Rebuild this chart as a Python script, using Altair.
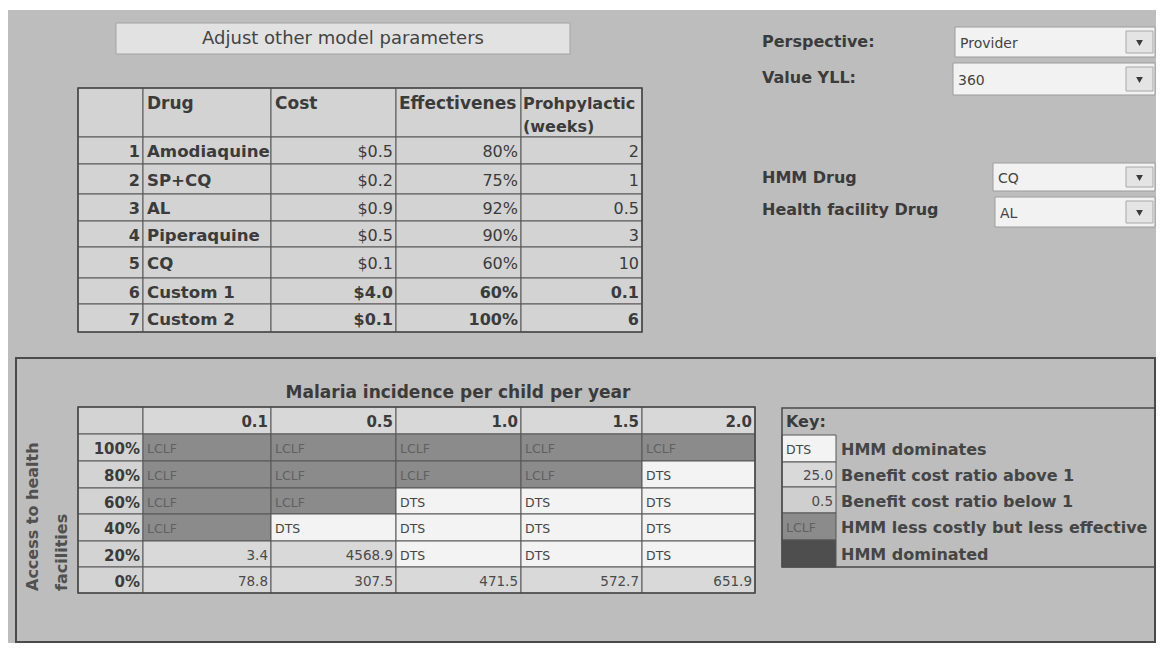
import altair as alt
import pandas as pd

# ---------------- data ----------------
button_label = "Adjust other model parameters"
drug_headers = ["Drug", "Cost", "Effectiveness", "Prohpylactic", "(weeks)"]
drug_ids = ["1", "2", "3", "4", "5", "6", "7"]
drug_names = ["Amodiaquine", "SP+CQ", "AL", "Piperaquine", "CQ", "Custom 1", "Custom 2"]
drug_cost = [0.5, 0.2, 0.9, 0.5, 0.1, 4.0, 0.1]
drug_eff = [80, 75, 92, 90, 60, 60, 100]
drug_weeks = ["2", "1", "0.5", "3", "10", "0.1", "6"]
drug_custom = [False, False, False, False, False, True, True]

control_labels = ["Perspective:", "Value YLL:", "HMM Drug", "Health facility Drug"]
control_values = ["Provider", "360", "CQ", "AL"]

heat_title = "Malaria incidence per child per year"
incidence = ["0.1", "0.5", "1.0", "1.5", "2.0"]
access = ["100%", "80%", "60%", "40%", "20%", "0%"]
results = [
    ["LCLF", "LCLF", "LCLF", "LCLF", "LCLF"],
    ["LCLF", "LCLF", "LCLF", "LCLF", "DTS"],
    ["LCLF", "LCLF", "DTS", "DTS", "DTS"],
    ["LCLF", "DTS", "DTS", "DTS", "DTS"],
    [3.4, 4568.9, "DTS", "DTS", "DTS"],
    [78.8, 307.5, 471.5, 572.7, 651.9],
]
y_title_lines = ["Access to health", "facilities"]
key_title = "Key:"
key_codes = ["DTS", "25.0", "0.5", "LCLF", ""]
key_cats = ["DTS", "HI", "LO", "LCLF", "DOM"]
key_labels = ["HMM dominates", "Benefit cost ratio above 1", "Benefit cost ratio below 1",
              "HMM less costly but less effective", "HMM dominated"]

# ---------------- sheet geometry (px) and styles ----------------
W, H = 1148, 635
COLS = [78, 143, 271, 396, 521, 642, 755]
DRUG_ROWS = [88, 137, 164, 194, 221, 247, 278, 304, 332]
HEAT_ROWS = [407, 434, 461, 488, 514, 541, 567, 593]
KEY_COLS = [782, 836, 1155]
KEY_ROWS = [408, 435, 462, 487, 513, 540, 567]
BUTTON = (116, 570, 23, 54)
PANEL = (16, 1155, 358, 642)
TITLE_X = 458
LABEL_X = 762
LABEL_Y = [42, 78, 178, 210]
BOXES = [(955, 1155, 27, 57), (953, 1155, 63, 95), (993, 1155, 163, 191), (995, 1155, 197, 227)]
ARROW_W = 29

BG = "#bdbdbd"
CELL = "#d3d3d3"
GRID = "#575757"
TEXT = "#3b3b3b"
NONE = "rgba(0,0,0,0)"
CAT_FILL = {"DTS": "#f3f3f3", "HI": "#d9d9d9", "LO": "#cfcfcf", "LCLF": "#8b8b8b", "DOM": "#4e4e4e"}
CAT_TEXT = {"DTS": "#454545", "HI": "#4a4a4a", "LO": "#4a4a4a", "LCLF": "#606060", "DOM": "#505050"}

rects = []
texts = []


def rect(x, x2, y, y2, fill, stroke=NONE, sw=0.0):
    rects.append(dict(x=x, x2=x2, y=y, y2=y2, fill=fill, stroke=stroke, sw=sw))


def text(x, y, s, group, size, color=TEXT):
    texts.append(dict(x=x, y=y, text=s, group=group, size=size, color=color))


def mid(a, b):
    return (a + b) / 2 + 1.5


# background sheet
rect(8, 1156, 10, 643, BG)

# button
rect(*BUTTON, "#e2e2e2", "#a3a3a3", 1)
text((BUTTON[0] + BUTTON[1]) / 2, mid(BUTTON[2], BUTTON[3]) - 1, button_label, "c-n", 18, "#444444")

# drug table
for r in range(len(DRUG_ROWS) - 1):
    for c in range(5):
        rect(COLS[c], COLS[c + 1], DRUG_ROWS[r], DRUG_ROWS[r + 1], CELL, GRID, 1)
rect(COLS[0], COLS[5], DRUG_ROWS[0], DRUG_ROWS[-1], NONE, "#4a4a4a", 1.6)
hy = DRUG_ROWS[0] + 16
text(COLS[1] + 4, hy, drug_headers[0], "l-b", 17)
text(COLS[2] + 4, hy, drug_headers[1], "l-b", 17)
text(COLS[3] + 3, hy, drug_headers[2], "l-b-lim", 17)
text(COLS[4] + 2, hy, drug_headers[3], "l-b", 16)
text(COLS[4] + 2, hy + 23, drug_headers[4], "l-b", 16)
for i in range(len(drug_names)):
    y = mid(DRUG_ROWS[i + 1], DRUG_ROWS[i + 2])
    w = "b" if drug_custom[i] else "n"
    text(COLS[1] - 3, y, drug_ids[i], "r-b", 16)
    text(COLS[1] + 4, y, drug_names[i], "l-b", 16.6)
    text(COLS[3] - 3, y, f"${drug_cost[i]:.1f}", "r-" + w, 16)
    text(COLS[4] - 3, y, f"{drug_eff[i]}%", "r-" + w, 16)
    text(COLS[5] - 3, y, drug_weeks[i], "r-" + w, 16)

# controls
for i, (lab, val) in enumerate(zip(control_labels, control_values)):
    text(LABEL_X, LABEL_Y[i], lab, "l-b", 16)
    x0, x1, y0, y1 = BOXES[i]
    rect(x0, x1, y0, y1, "#f2f2f2", "#9c9c9c", 1)
    rect(x1 - ARROW_W, x1 - 2, y0 + 4, y1 - 4, "#e4e4e4", "#a8a8a8", 1)
    text(x0 + 5, mid(y0, y1), val, "l-n", 14, "#444444")

# lower panel
rect(*PANEL, NONE, "#4a4a4a", 2)
text(TITLE_X, 393, heat_title, "c-b", 17)

# heat map
rect(COLS[0], COLS[1], HEAT_ROWS[0], HEAT_ROWS[1], CELL, GRID, 1)
for j, inc in enumerate(incidence):
    rect(COLS[j + 1], COLS[j + 2], HEAT_ROWS[0], HEAT_ROWS[1], "#d8d8d8", GRID, 1)
    text(COLS[j + 2] - 3, mid(HEAT_ROWS[0], HEAT_ROWS[1]), inc, "r-b", 15)
for i, acc in enumerate(access):
    y0, y1 = HEAT_ROWS[i + 1], HEAT_ROWS[i + 2]
    rect(COLS[0], COLS[1], y0, y1, CELL, GRID, 1)
    text(COLS[1] - 3, mid(y0, y1), acc, "r-b", 15)
    for j in range(len(incidence)):
        v = results[i][j]
        if isinstance(v, str):
            cat = v
        else:
            cat = "HI" if v >= 1 else "LO"
        rect(COLS[j + 1], COLS[j + 2], y0, y1, CAT_FILL[cat], GRID, 1)
        if isinstance(v, str):
            text(COLS[j + 1] + 4, mid(y0, y1), v, "l-n", 12.5, CAT_TEXT[cat])
        else:
            text(COLS[j + 2] - 3, mid(y0, y1), f"{v:.1f}", "r-n", 13.5, CAT_TEXT[cat])
rect(COLS[0], COLS[-1], HEAT_ROWS[0], HEAT_ROWS[-1], NONE, "#4a4a4a", 1.6)
text(33, HEAT_ROWS[-1] - 2, y_title_lines[0], "rot", 16, "#505050")
text(62, HEAT_ROWS[-1] - 2, y_title_lines[1], "rot", 16, "#505050")

# key
text(KEY_COLS[0] + 4, mid(KEY_ROWS[0], KEY_ROWS[1]) - 1, key_title, "l-b", 16)
for i in range(len(key_labels)):
    y0, y1 = KEY_ROWS[i + 1], KEY_ROWS[i + 2]
    cat = key_cats[i]
    rect(KEY_COLS[0], KEY_COLS[1], y0, y1, CAT_FILL[cat], GRID, 1)
    code = key_codes[i]
    if code:
        if cat in ("HI", "LO"):
            text(KEY_COLS[1] - 3, mid(y0, y1), code, "r-n", 13.5, CAT_TEXT[cat])
        else:
            text(KEY_COLS[0] + 4, mid(y0, y1), code, "l-n", 12.5, CAT_TEXT[cat])
    text(KEY_COLS[1] + 5, mid(y0, y1), key_labels[i], "l-b", 16, "#454545")
rect(KEY_COLS[0], KEY_COLS[2], KEY_ROWS[0], KEY_ROWS[-1], NONE, "#4a4a4a", 1.5)

rect_df = pd.DataFrame(rects)
text_df = pd.DataFrame(texts)

xs = alt.Scale(domain=[8, 8 + W], nice=False, zero=False)
ys = alt.Scale(domain=[8, 8 + H], nice=False, zero=False, reverse=True)

rect_layer = alt.Chart(rect_df).mark_rect().encode(
    x=alt.X("x:Q", scale=xs, axis=None),
    x2="x2:Q",
    y=alt.Y("y:Q", scale=ys, axis=None),
    y2="y2:Q",
    fill=alt.Fill("fill:N", scale=None),
    stroke=alt.Stroke("stroke:N", scale=None),
    strokeWidth=alt.StrokeWidth("sw:Q", scale=None),
)

# dropdown arrows
arrow_df = pd.DataFrame([
    dict(x=b[1] - 2 - (ARROW_W - 2) / 2, y=(b[2] + b[3]) / 2 + 1) for b in BOXES
])
arrow_layer = alt.Chart(arrow_df).mark_point(
    shape="triangle-down", filled=True, size=45, color="#3a3a3a", opacity=1
).encode(
    x=alt.X("x:Q", scale=xs, axis=None),
    y=alt.Y("y:Q", scale=ys, axis=None),
)

styles = {
    "c-n": dict(align="center", fontWeight="normal"),
    "c-b": dict(align="center", fontWeight="bold"),
    "l-n": dict(align="left", fontWeight="normal"),
    "l-b": dict(align="left", fontWeight="bold"),
    "l-b-lim": dict(align="left", fontWeight="bold", limit=122, ellipsis="\u200b"),
    "r-n": dict(align="right", fontWeight="normal"),
    "r-b": dict(align="right", fontWeight="bold"),
    "rot": dict(align="left", fontWeight="bold", angle=270),
}

layers = [rect_layer, arrow_layer]
for g, st in styles.items():
    sub = text_df[text_df["group"] == g]
    if len(sub) == 0:
        continue
    layers.append(
        alt.Chart(sub).mark_text(font="DejaVu Sans", baseline="middle", **st).encode(
            x=alt.X("x:Q", scale=xs, axis=None),
            y=alt.Y("y:Q", scale=ys, axis=None),
            text="text:N",
            size=alt.Size("size:Q", scale=None),
            color=alt.Color("color:N", scale=None),
        )
    )

chart = alt.layer(*layers).properties(
    width=W, height=H,
    autosize=alt.AutoSizeParams(type="none"),
    padding=0,
    background="white",
).configure_view(stroke=None)

chart.save("out.html", embed_options={"renderer": "svg", "actions": False})
